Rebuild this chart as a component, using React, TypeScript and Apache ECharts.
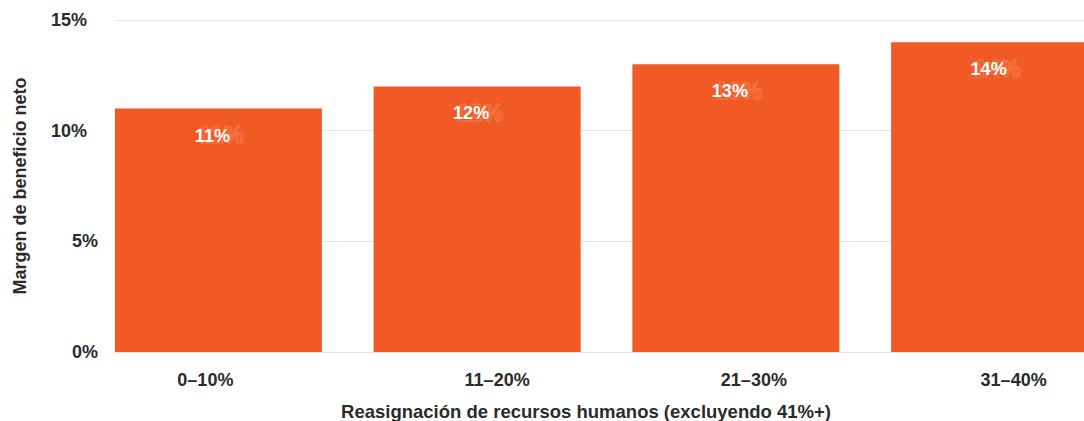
import React, { useEffect, useRef } from "react";
import * as echarts from "echarts";

const categories = ["0–10%", "11–20%", "21–30%", "31–40%"];
const margins = [11, 12, 13, 14];
const yTicks = [0, 5, 10, 15];

const xTitle = "Reasignación de recursos humanos (excluyendo 41%+)";
const yTitle = "Margen de beneficio neto";

// horizontal nudge (px) of each category label relative to its bar centre
const categoryShift = [-13, 20, 18, 19];

const FONT = "Liberation Sans, Arial, sans-serif";
const BAR = "#F15A24";
const TEXT = "#2b2b2b";

// the chart canvas is wider than the visible frame; the last bar runs past the edge
const VIEW_W = 1084;
const VIEW_H = 421;
const CANVAS_W = 1140;

function shiftStyle(d: number) {
  return {
    fontFamily: FONT,
    fontSize: 18,
    fontWeight: "bold",
    color: TEXT,
    padding: d >= 0 ? [0, 0, 0, 2 * d] : [0, -2 * d, 0, 0],
  };
}

export default function App() {
  const ref = useRef<HTMLDivElement>(null);

  useEffect(() => {
    if (!ref.current) return;
    const chart = echarts.init(ref.current, undefined, { renderer: "svg" });

    const catRich: Record<string, any> = {};
    categoryShift.forEach((d, i) => {
      catRich["c" + i] = shiftStyle(d);
    });

    chart.setOption({
      animation: false,
      backgroundColor: "#ffffff",
      grid: [
        { left: 89, width: 1035, top: 20, bottom: 69, containLabel: false },
        { left: 115, width: VIEW_W - 115, top: 20, bottom: 69, containLabel: false },
      ],
      xAxis: [
        {
          type: "category",
          gridIndex: 0,
          data: categories,
          axisLine: { show: false },
          axisTick: { show: false },
          axisLabel: {
            margin: 19,
            formatter: (v: string, i: number) => `{c${i}|${v}}`,
            rich: catRich,
          },
        },
        {
          type: "value",
          gridIndex: 1,
          show: false,
          min: 0,
          max: 1,
        },
      ],
      yAxis: [
        {
          type: "value",
          gridIndex: 0,
          min: 0,
          max: 15,
          interval: 5,
          splitLine: { show: false },
          axisLine: { show: false },
          axisTick: { show: false },
          axisLabel: { show: false },
        },
        {
          type: "value",
          gridIndex: 1,
          min: yTicks[0],
          max: yTicks[yTicks.length - 1],
          interval: 5,
          splitLine: { show: true, lineStyle: { color: "#e3e3e3", width: 1 } },
          axisLine: { show: false },
          axisTick: { show: false },
          axisLabel: {
            margin: 17,
            formatter: (v: number) => (v >= 10 ? `{w|${v}%}` : `{n|${v}%}`),
            rich: {
              w: {
                fontFamily: FONT,
                fontSize: 18,
                fontWeight: "bold",
                color: TEXT,
                padding: [0, 11, 0, 0],
              },
              n: {
                fontFamily: FONT,
                fontSize: 18,
                fontWeight: "bold",
                color: TEXT,
              },
            },
          },
        },
      ],
      series: [
        {
          type: "bar",
          xAxisIndex: 0,
          yAxisIndex: 0,
          data: margins,
          barWidth: 207,
          itemStyle: { color: BAR },
          label: {
            show: true,
            position: "insideTop",
            distance: 14,
            offset: [3, 1],
            fontFamily: FONT,
            fontSize: 23,
            fontWeight: "bold",
            color: "transparent",
            textBorderColor: "rgba(255,205,185,0.3)",
            textBorderWidth: 1,
            formatter: (p: any) => `${p.value}%`,
          },
          z: 2,
        },
        {
          type: "bar",
          xAxisIndex: 0,
          yAxisIndex: 0,
          data: margins,
          barWidth: 207,
          barGap: "-100%",
          itemStyle: { color: "transparent" },
          label: {
            show: true,
            position: "insideTop",
            distance: 18,
            offset: [-6, 0],
            fontFamily: FONT,
            fontSize: 18,
            fontWeight: "bold",
            color: "#ffffff",
            formatter: (p: any) => `${p.value}%`,
          },
          z: 3,
        },
      ],
      graphic: [
        {
          type: "text",
          x: 586,
          y: 411,
          style: {
            text: xTitle,
            fontFamily: FONT,
            fontSize: 18.5,
            fontWeight: "bold",
            fill: TEXT,
            align: "center",
            verticalAlign: "middle",
          },
        },
        {
          type: "text",
          x: 20,
          y: 186,
          rotation: Math.PI / 2,
          style: {
            text: yTitle,
            fontFamily: FONT,
            fontSize: 18,
            fontWeight: "bold",
            fill: TEXT,
            align: "center",
            verticalAlign: "middle",
          },
        },
      ],
    });
    return () => chart.dispose();
  }, []);

  return (
    <div
      style={{
        position: "absolute",
        left: 0,
        top: 0,
        width: VIEW_W,
        height: VIEW_H,
        overflow: "hidden",
        background: "#ffffff",
      }}
    >
      <div ref={ref} style={{ width: CANVAS_W, height: VIEW_H }} />
    </div>
  );
}
